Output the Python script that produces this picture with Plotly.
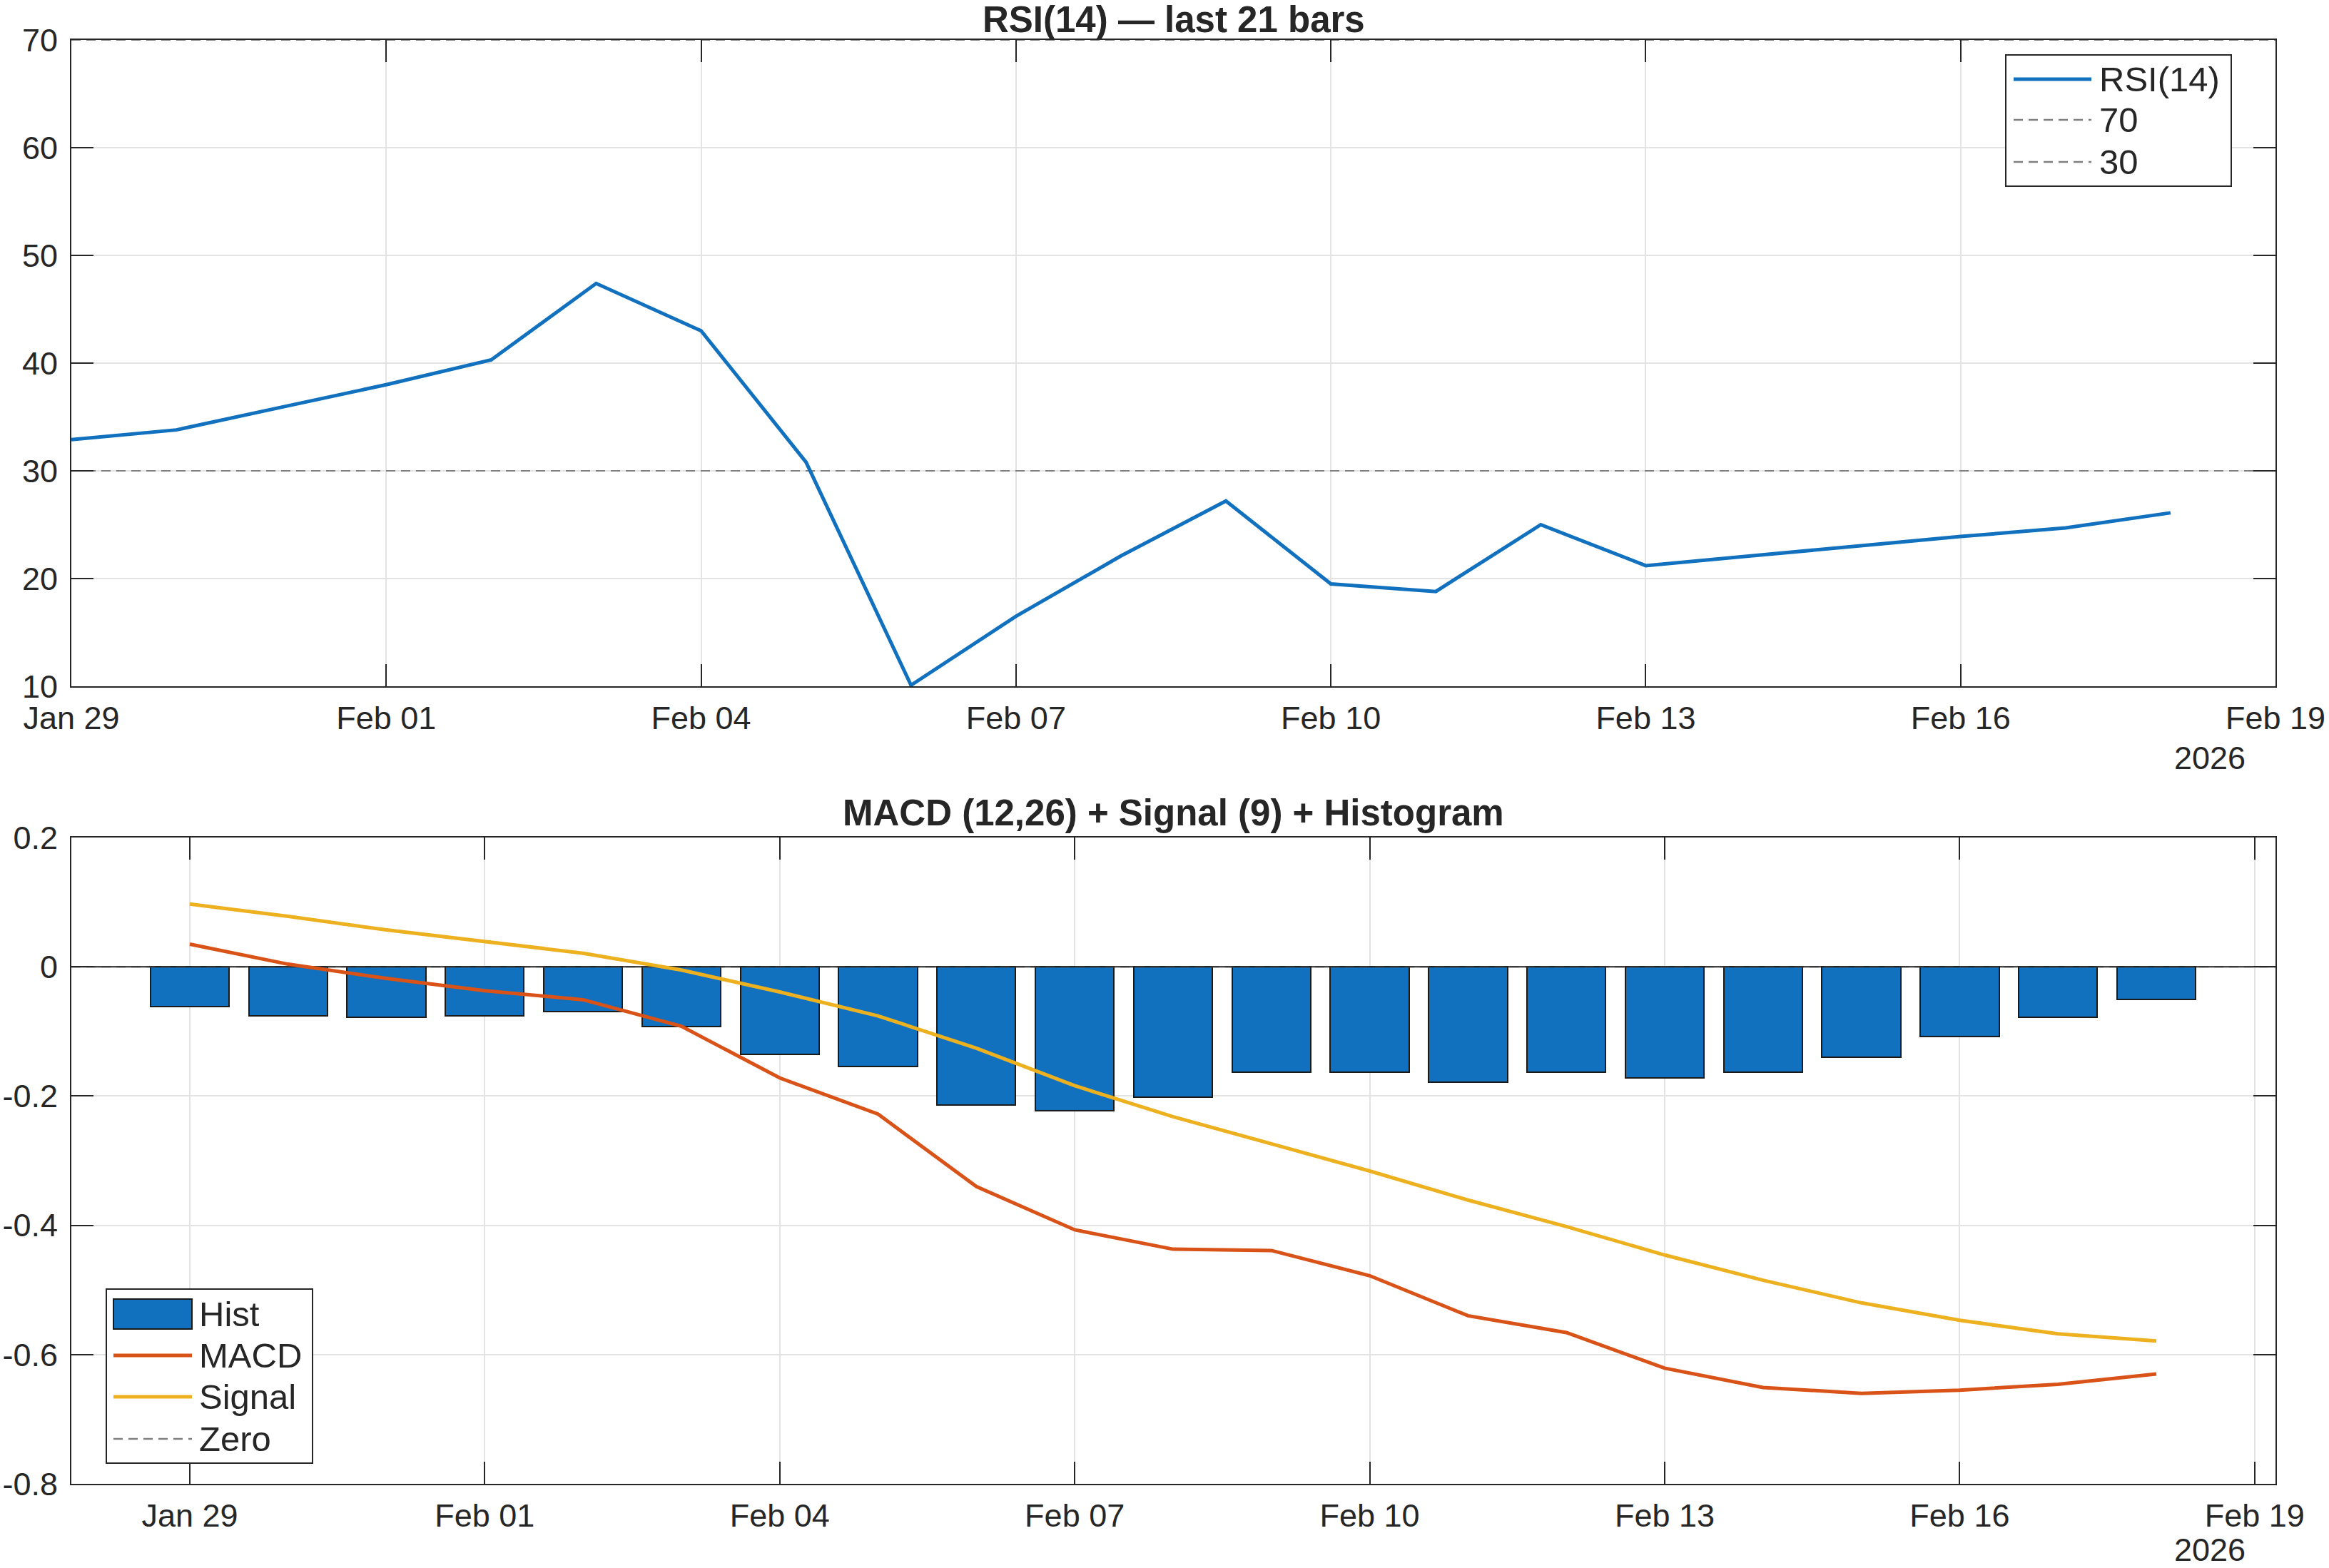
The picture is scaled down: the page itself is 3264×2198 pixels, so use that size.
import plotly.graph_objects as go
import pandas as pd

# ---------------- data ----------------
dates = pd.date_range("2026-01-29", "2026-02-18", freq="D")

rsi = [32.9, 33.8, 35.9, 38.0, 40.3, 47.4, 43.0, 30.8, 10.1, 16.5, 22.1,
       27.2, 19.5, 18.8, 25.0, 21.2, 22.1, 23.0, 23.9, 24.7, 26.1]
rsi_levels = [70, 30]

macd = [0.035, 0.004, -0.018, -0.037, -0.051, -0.092, -0.172, -0.228, -0.340,
        -0.407, -0.437, -0.439, -0.478, -0.540, -0.566, -0.621, -0.651, -0.660,
        -0.655, -0.646, -0.630]
signal = [0.097, 0.078, 0.057, 0.039, 0.021, -0.005, -0.039, -0.076, -0.126,
          -0.184, -0.232, -0.274, -0.316, -0.361, -0.402, -0.446, -0.485,
          -0.520, -0.547, -0.568, -0.579]
hist = [-0.062, -0.076, -0.078, -0.076, -0.069, -0.092, -0.136, -0.154, -0.214,
        -0.223, -0.202, -0.163, -0.163, -0.179, -0.163, -0.172, -0.163, -0.140,
        -0.108, -0.078, -0.051]
zero_level = 0

rsi_ticks = [10, 20, 30, 40, 50, 60, 70]
macd_ticks = [-0.8, -0.6, -0.4, -0.2, 0, 0.2]
macd_ticktext = ["-0.8", "-0.6", "-0.4", "-0.2", "0", "0.2"]

top_title = "RSI(14) — last 21 bars"
bottom_title = "MACD (12,26) + Signal (9) + Histogram"
year_label = "2026"

x_top_range = ["2026-01-29 00:00", "2026-02-19 00:00"]
x_bot_range = ["2026-01-27 19:06", "2026-02-19 05:05"]

# ---------------- style ----------------
FONT = "Liberation Sans, Arial, Helvetica, sans-serif"
TXT = "#262626"
BLUE = "#1171BE"
ORANGE = "#D95319"
YELLOW = "#EDB120"
GRAY = "#7f7f7f"
GRID = "#e3e3e3"
DASH = "13px,8px"

W_FIG, H_FIG = 3264, 2198
L, R, T, B = 100, 75, 56, 118
PW, PH = W_FIG - L - R, H_FIG - T - B


def px(xp):
    return (xp - L) / PW


def py(yp):
    return (H_FIG - B - yp) / PH


DAY = 86400000

fig = go.Figure()

# ---------------- top: RSI ----------------
for lv in rsi_levels:
    fig.add_trace(go.Scatter(x=x_top_range, y=[lv, lv], mode="lines", name=str(lv),
                             line=dict(color=GRAY, width=2, dash=DASH),
                             xaxis="x", yaxis="y", showlegend=False,
                             hoverinfo="skip"))
fig.add_trace(go.Scatter(x=dates, y=rsi, mode="lines", name="RSI(14)",
                         line=dict(color=BLUE, width=5), xaxis="x", yaxis="y",
                         showlegend=False))

# ---------------- bottom: MACD ----------------
fig.add_trace(go.Bar(x=dates, y=hist, name="Hist", width=0.8 * DAY,
                     marker=dict(color=BLUE, line=dict(color="#1a1a1a", width=2)),
                     xaxis="x2", yaxis="y2", showlegend=False))
fig.add_trace(go.Scatter(x=x_bot_range, y=[zero_level, zero_level], mode="lines",
                         name="Zero", line=dict(color=GRAY, width=2, dash=DASH),
                         xaxis="x2", yaxis="y2", showlegend=False,
                         hoverinfo="skip"))
fig.add_trace(go.Scatter(x=x_bot_range, y=[zero_level, zero_level], mode="lines",
                         name="Baseline", line=dict(color=TXT, width=2),
                         xaxis="x2", yaxis="y2", showlegend=False,
                         hoverinfo="skip"))
fig.add_trace(go.Scatter(x=dates, y=macd, mode="lines", name="MACD",
                         line=dict(color=ORANGE, width=5), xaxis="x2", yaxis="y2",
                         showlegend=False))
fig.add_trace(go.Scatter(x=dates, y=signal, mode="lines", name="Signal",
                         line=dict(color=YELLOW, width=5), xaxis="x2", yaxis="y2",
                         showlegend=False))

axis_common = dict(showline=True, linecolor=TXT, linewidth=2, mirror="ticks",
                   ticks="inside", ticklen=31, tickwidth=2, tickcolor=TXT,
                   showgrid=True, gridcolor=GRID, gridwidth=2, zeroline=False,
                   automargin=False,
                   tickfont=dict(family=FONT, size=45, color=TXT))

top_dom = [py(962), 1.0]
bot_dom = [0.0, py(1174)]

fig.update_layout(
    width=W_FIG, height=H_FIG,
    margin=dict(l=L, r=R, t=T, b=B, autoexpand=False),
    paper_bgcolor="white", plot_bgcolor="white",
    font=dict(family=FONT, color=TXT),
    bargap=0,
    xaxis=dict(domain=[0, 1], anchor="y", type="date", range=x_top_range,
               tick0="2026-01-29", dtick=3 * DAY, tickformat="%b %d",
               ticklabelstandoff=4, **axis_common),
    yaxis=dict(domain=top_dom, anchor="x", range=[10, 70], tickvals=rsi_ticks,
               ticklabelstandoff=8, **axis_common),
    xaxis2=dict(domain=[0, 1], anchor="y2", type="date", range=x_bot_range,
                tick0="2026-01-29", dtick=3 * DAY, tickformat="%b %d",
                ticklabelstandoff=4, **axis_common),
    yaxis2=dict(domain=bot_dom, anchor="x2", range=[-0.8, 0.2],
                tickvals=macd_ticks, ticktext=macd_ticktext,
                ticklabelstandoff=8, **axis_common),
)

annotations = [
    dict(text="<b>" + top_title + "</b>", x=px(1644.5), y=py(27), xref="paper",
         yref="paper", showarrow=False, xanchor="center", yanchor="middle",
         font=dict(family=FONT, size=51, color=TXT)),
    dict(text="<b>" + bottom_title + "</b>", x=px(1644.5), y=py(1139), xref="paper",
         yref="paper", showarrow=False, xanchor="center", yanchor="middle",
         font=dict(family=FONT, size=51, color=TXT)),
    dict(text=year_label, x=px(3097), y=py(1062), xref="paper", yref="paper",
         showarrow=False, xanchor="center", yanchor="middle",
         font=dict(family=FONT, size=45, color=TXT)),
    dict(text=year_label, x=px(3097), y=py(2172), xref="paper", yref="paper",
         showarrow=False, xanchor="center", yanchor="middle",
         font=dict(family=FONT, size=45, color=TXT)),
]

# ---------------- manual legends ----------------
LEG_FONT = dict(family=FONT, size=49, color=TXT)
shapes = []

# top legend
shapes.append(dict(type="rect", xref="paper", yref="paper", x0=px(2811), x1=px(3127),
                   y0=py(261), y1=py(77), fillcolor="white",
                   line=dict(color=TXT, width=2), layer="above"))
top_items = [("RSI(14)", BLUE, 5, "solid", 111),
             (str(rsi_levels[0]), GRAY, 2.5, DASH, 168),
             (str(rsi_levels[1]), GRAY, 2.5, DASH, 227)]
for label, col, lw, dash, yy in top_items:
    shapes.append(dict(type="line", xref="paper", yref="paper", x0=px(2822),
                       x1=px(2931), y0=py(yy), y1=py(yy),
                       line=dict(color=col, width=lw, dash=dash), layer="above"))
    annotations.append(dict(text=label, x=px(2940), y=py(yy), xref="paper",
                            yref="paper", showarrow=False, xanchor="left",
                            yanchor="middle", font=LEG_FONT))

# bottom legend
shapes.append(dict(type="rect", xref="paper", yref="paper", x0=px(149), x1=px(438),
                   y0=py(2051), y1=py(1807), fillcolor="white",
                   line=dict(color=TXT, width=2), layer="above"))
shapes.append(dict(type="rect", xref="paper", yref="paper", x0=px(159), x1=px(269),
                   y0=py(1863), y1=py(1821), fillcolor=BLUE,
                   line=dict(color="#1a1a1a", width=2), layer="above"))
annotations.append(dict(text="Hist", x=px(277), y=py(1842), xref="paper",
                        yref="paper", showarrow=False, xanchor="left",
                        yanchor="middle", font=LEG_FONT))
bot_items = [("MACD", ORANGE, 5, "solid", 1900),
             ("Signal", YELLOW, 5, "solid", 1958),
             ("Zero", GRAY, 2.5, DASH, 2017)]
for label, col, lw, dash, yy in bot_items:
    shapes.append(dict(type="line", xref="paper", yref="paper", x0=px(159),
                       x1=px(269), y0=py(yy), y1=py(yy),
                       line=dict(color=col, width=lw, dash=dash), layer="above"))
    annotations.append(dict(text=label, x=px(277), y=py(yy), xref="paper",
                            yref="paper", showarrow=False, xanchor="left",
                            yanchor="middle", font=LEG_FONT))

fig.update_layout(shapes=shapes, annotations=annotations)

fig.write_html("out.html")
